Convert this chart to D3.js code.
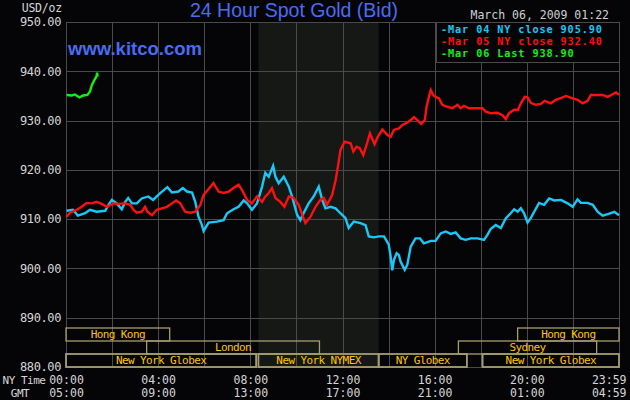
<!DOCTYPE html>
<html><head><meta charset="utf-8">
<script src="https://cdn.jsdelivr.net/npm/d3@7"></script>
<style>
html,body{margin:0;padding:0;background:#050508;}
svg{display:block;}
</style></head><body>
<svg id="c" width="630" height="400"></svg>
<script>
// ---- DATA ----
const yTicks = [880, 890, 900, 910, 920, 930, 940, 950];
const xTickHours = [0, 4, 8, 12, 16, 20, 24];
const nyTimeLabels = ["00:00", "04:00", "08:00", "12:00", "16:00", "20:00", "23:59"];
const gmtLabels = ["05:00", "09:00", "13:00", "17:00", "21:00", "01:00", "04:59"];

// hours after midnight (NY time) and bid prices
const mar04Time = [0.03,0.30,0.52,0.83,1.04,1.33,1.70,1.83,1.99,2.20,2.42,2.57,2.70,2.86,3.07,3.29,3.57,3.78,4.09,4.40,4.60,4.88,5.07,5.25,5.47,5.61,5.75,5.90,5.97,6.19,6.55,6.84,6.99,7.27,7.49,7.71,7.86,8.07,8.29,8.51,8.65,8.80,8.99,9.09,9.23,9.45,9.67,9.81,10.03,10.17,10.32,10.53,10.75,10.97,11.12,11.26,11.48,11.70,11.91,12.13,12.27,12.49,12.78,13.00,13.14,13.36,13.58,13.80,13.94,14.01,14.09,14.16,14.23,14.35,14.45,14.52,14.70,14.81,14.96,15.17,15.36,15.53,15.83,16.04,16.26,16.48,16.70,16.91,17.13,17.35,17.57,17.86,18.14,18.29,18.43,18.65,18.87,19.09,19.30,19.45,19.60,19.74,19.88,20.03,20.17,20.32,20.53,20.75,20.97,21.19,21.48,21.77,21.99,22.20,22.35,22.64,22.86,23.07,23.29,23.51,23.80,24.00];
const mar04Price = [911.7,911.9,910.7,911.2,911.9,911.5,911.7,912.8,913.9,913.2,912.0,913.5,914.3,913.2,913.2,914.2,914.6,913.9,915.3,916.5,915.4,915.6,916.3,915.6,915.4,913.5,910.5,908.8,907.6,909.3,909.5,909.8,911.2,912.0,912.5,913.8,913.2,911.9,913.2,916.6,919.4,918.6,920.8,918.6,917.3,918.6,916.6,914.6,910.9,909.8,911.3,913.2,914.6,916.6,913.9,912.2,912.5,912.2,911.2,910.2,908.2,909.5,909.2,908.8,906.5,906.3,906.5,906.5,905.4,904.8,902.4,899.6,901.7,903.1,902.7,901.4,899.7,900.7,904.4,906.1,906.1,905.1,905.6,905.6,907.1,907.5,907.0,907.3,906.1,905.8,906.1,906.1,905.8,906.8,908.0,908.8,908.2,910.2,911.2,912.0,911.5,912.2,911.2,909.3,910.2,911.5,913.3,912.9,914.2,913.8,913.9,913.2,912.5,914.0,913.3,913.3,912.9,911.5,910.7,911.0,911.5,910.8];

const mar05Time = [0.03,0.17,0.47,0.68,0.90,1.12,1.33,1.55,1.77,2.06,2.27,2.57,2.78,2.93,3.07,3.29,3.43,3.53,3.73,3.94,4.16,4.38,4.60,4.78,4.96,5.17,5.39,5.61,5.83,5.97,6.19,6.40,6.62,6.84,7.06,7.27,7.49,7.64,7.86,8.07,8.29,8.51,8.65,8.80,8.94,9.09,9.30,9.48,9.67,9.88,10.10,10.25,10.39,10.61,10.83,11.04,11.19,11.33,11.55,11.70,11.80,11.91,12.09,12.35,12.47,12.61,12.75,12.90,13.04,13.19,13.39,13.53,13.73,13.94,14.09,14.23,14.45,14.60,14.81,14.96,15.10,15.25,15.42,15.57,15.65,15.75,15.83,15.94,16.04,16.19,16.33,16.55,16.77,16.99,17.13,17.27,17.49,18.07,18.22,18.43,18.73,18.94,19.09,19.23,19.45,19.62,19.74,19.91,20.03,20.17,20.39,20.61,20.78,21.04,21.26,21.55,21.70,21.99,22.20,22.42,22.64,22.78,23.07,23.29,23.51,23.74,23.87,24.00];
const mar05Price = [910.5,911.3,911.9,912.5,913.3,913.2,913.5,913.1,912.5,913.2,913.1,913.2,912.9,911.9,911.3,911.5,912.5,911.5,910.8,911.9,912.2,912.5,913.2,913.8,913.2,911.5,911.3,911.5,912.9,914.9,916.1,917.3,915.6,915.3,915.6,916.3,917.0,915.9,913.9,913.2,914.6,913.5,914.6,915.3,916.3,914.3,913.5,912.5,914.6,914.3,912.9,910.9,909.2,910.5,912.5,913.9,914.3,912.9,914.9,917.9,920.6,924.0,925.7,925.4,923.7,924.7,924.4,923.0,925.0,927.4,925.2,926.7,928.2,927.1,926.7,928.1,928.4,929.1,929.6,930.1,930.7,930.1,929.3,930.1,932.8,934.8,936.2,935.2,934.8,934.5,933.2,932.8,932.5,933.2,932.5,933.0,932.5,932.5,931.8,931.5,931.6,931.1,930.3,931.5,932.2,932.2,933.5,934.8,934.7,933.6,933.2,933.4,934.0,933.5,934.2,934.7,935.0,934.5,934.2,933.5,934.0,935.2,935.2,935.2,934.8,935.4,935.7,935.2];

const mar06Time = [0.03,0.25,0.39,0.58,0.75,0.93,1.04,1.12,1.23,1.33,1.35,1.37];
const mar06Price = [935.2,935.1,935.3,934.7,935.1,935.2,935.9,937.2,938.2,939.0,939.7,938.9];

const legendLabels = ["-Mar 04 NY close 905.90", "-Mar 05 NY close 932.40", "-Mar 06 Last 938.90"];

// market sessions (NY hours)
const sessionNames = ["Hong Kong", "London", "New York Globex", "New York NYMEX", "NY Globex", "New York Globex", "Sydney", "Hong Kong"];
const sessionStart = [0, 3.5, 0, 8.35, 13.57, 18.08, 17.03, 19.6];
const sessionEnd   = [4.5, 11.0, 8.25, 13.57, 17.4, 24, 23.03, 24];
const sessionRow   = [0, 1, 2, 2, 2, 2, 1, 0];

const nymexHours = [8.35, 13.57];

// ---- CHART ----
const svg = d3.select("#c");
const L = 66, R = 619, T = 22, B = 367;
const x = d3.scaleLinear().domain([0, 24]).range([L, R]);
const y = d3.scaleLinear().domain([880, 950]).range([B, T]);
const mono = '"DejaVu Sans Mono", monospace';
const gridCol = "#4a4a4a";

svg.append("rect").attr("width", 630).attr("height", 400).attr("fill", "#050508");

// NYMEX shading
svg.append("rect")
  .attr("x", x(nymexHours[0])).attr("y", T)
  .attr("width", x(nymexHours[1]) - x(nymexHours[0])).attr("height", B - T)
  .attr("fill", "#151815");

// grid
const gx = svg.append("g").attr("transform", `translate(0,${B})`)
  .call(d3.axisBottom(x).tickValues(d3.range(0, 25, 2)).tickSize(-(B - T)).tickFormat(""));
const gy = svg.append("g").attr("transform", `translate(${L},0)`)
  .call(d3.axisLeft(y).tickValues(yTicks).tickSize(-(R - L)).tickFormat(""));
[gx, gy].forEach(g => {
  g.select(".domain").remove();
  g.selectAll("line").attr("stroke", gridCol).attr("shape-rendering", "crispEdges");
});
svg.append("rect").attr("x", L).attr("y", T).attr("width", R - L).attr("height", B - T)
  .attr("fill", "none").attr("stroke", gridCol).attr("shape-rendering", "crispEdges");

// y labels
const ya = svg.append("g").attr("transform", `translate(${L},0)`)
  .call(d3.axisLeft(y).tickValues(yTicks).tickFormat(d3.format(".2f")).tickSize(0).tickPadding(5));
ya.select(".domain").remove();
ya.selectAll("text").attr("fill", "#d6d6d6").attr("font-family", mono)
  .attr("font-size", 12).attr("letter-spacing", -0.4);

// x labels
function timeAxis(labels, yy) {
  const g = svg.append("g").attr("transform", `translate(0,${yy})`)
    .call(d3.axisBottom(x).tickValues(xTickHours).tickFormat((d, i) => labels[i]).tickSize(0).tickPadding(0));
  g.select(".domain").remove();
  g.selectAll("text").attr("fill", "#d6d6d6").attr("font-family", mono)
    .attr("font-size", 11.5).attr("y", 0).attr("dy", "0.35em");
  g.selectAll("text").filter((d, i) => i === xTickHours.length - 1)
    .attr("text-anchor", "end").attr("dx", 7);
}
timeAxis(nyTimeLabels, 380);
timeAxis(gmtLabels, 393);

svg.append("text").attr("x", 24).attr("y", 380).attr("dy", "0.35em").attr("text-anchor", "middle")
  .attr("fill", "#d6d6d6").attr("font-family", mono).attr("font-size", 11).attr("letter-spacing", -0.5).text("NY Time");
svg.append("text").attr("x", 20).attr("y", 393).attr("dy", "0.35em").attr("text-anchor", "middle")
  .attr("fill", "#d6d6d6").attr("font-family", mono).attr("font-size", 11).attr("letter-spacing", -0.5).text("GMT");

// sessions
const rowTop = 328, rowH = 13;
const sess = sessionNames.map((n, i) => ({ n, s: sessionStart[i], e: sessionEnd[i], r: sessionRow[i] }));
const sg = svg.append("g");
sg.selectAll("rect").data(sess).join("rect")
  .attr("x", d => x(d.s)).attr("y", d => rowTop + d.r * rowH)
  .attr("width", d => x(d.e) - x(d.s)).attr("height", rowH)
  .attr("fill", "none").attr("stroke", "#a59e6e").attr("stroke-width", d => d.r === 2 ? 1.8 : 1.3);
sg.selectAll("text").data(sess).join("text")
  .attr("x", d => (x(d.s) + x(d.e)) / 2).attr("y", d => rowTop + d.r * rowH + rowH / 2)
  .attr("dy", "0.36em").attr("text-anchor", "middle")
  .attr("fill", "#ffc400").attr("font-family", mono).attr("font-size", 11).attr("letter-spacing", -0.6)
  .text(d => d.n);

// lines
const line = d3.line().x(d => x(d[0])).y(d => y(d[1]));
const series = [
  { t: mar04Time, p: mar04Price, c: "#1ac8f8" },
  { t: mar05Time, p: mar05Price, c: "#ff1010" },
  { t: mar06Time, p: mar06Price, c: "#14f014" }
];
series.forEach(s => {
  svg.append("path").datum(d3.zip(s.t, s.p)).attr("d", line)
    .attr("fill", "none").attr("stroke", s.c).attr("stroke-width", 2.4).attr("stroke-linejoin", "miter");
});

// legend
svg.append("rect").attr("x", 436).attr("y", T).attr("width", R - 436).attr("height", 40)
  .attr("fill", "#050508").attr("stroke", gridCol).attr("shape-rendering", "crispEdges");
svg.selectAll(".leg").data(legendLabels).join("text").attr("class", "leg")
  .attr("x", 441).attr("y", (d, i) => 29.5 + i * 12).attr("dy", "0.36em")
  .attr("fill", (d, i) => series[i].c).attr("font-family", mono).attr("font-size", 10.2)
  .attr("font-weight", "bold").attr("letter-spacing", 0.9).text(d => d);

// texts
svg.append("text").attr("x", 294).attr("y", 17).attr("text-anchor", "middle")
  .attr("fill", "#4a6cf0").attr("font-family", '"Liberation Sans", Arial, sans-serif').attr("font-size", 19.5)
  .text("24 Hour Spot Gold (Bid)");
svg.append("text").attr("x", 68).attr("y", 55)
  .attr("fill", "#4a6cf0").attr("font-family", '"Liberation Sans", Arial, sans-serif').attr("font-size", 18.5)
  .attr("font-weight", "bold").text("www.kitco.com");
svg.append("text").attr("x", 609).attr("y", 15).attr("dy", "0.36em").attr("text-anchor", "end")
  .attr("fill", "#cfcfcf").attr("font-family", mono).attr("font-size", 11.5).text("March 06, 2009 01:22");
svg.append("text").attr("x", 62).attr("y", 8).attr("dy", "0.36em").attr("text-anchor", "end")
  .attr("fill", "#d6d6d6").attr("font-family", mono).attr("font-size", 11.5).attr("letter-spacing", -0.2).text("USD/oz");
</script></body></html>
